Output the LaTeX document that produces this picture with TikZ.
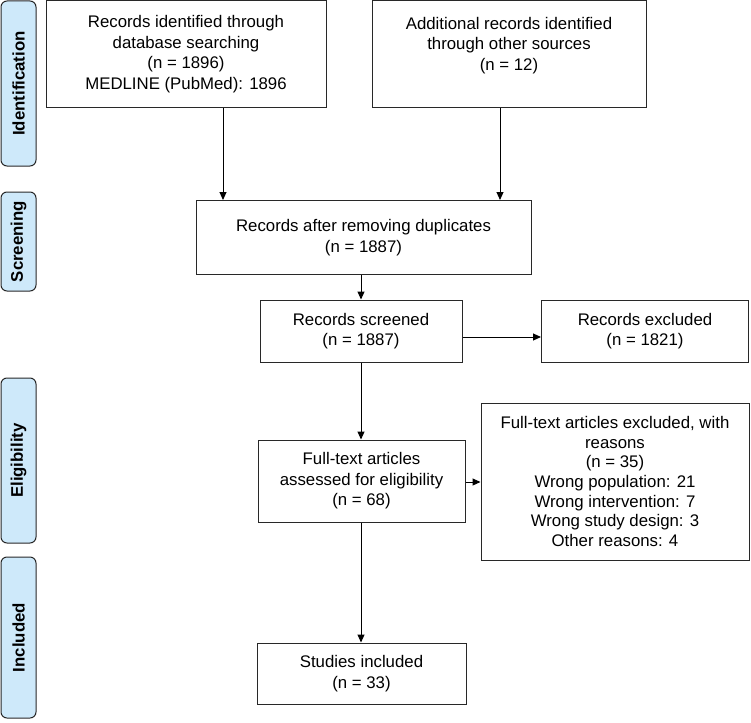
\documentclass[tikz,border=0pt]{standalone}
\usepackage{fontspec}
\setmainfont{Liberation Sans}
\usetikzlibrary{arrows.meta}
\definecolor{labfill}{RGB}{206,233,250}
\definecolor{edge}{RGB}{40,40,40}
\tikzset{
  box/.style={draw=edge, line width=1pt, rectangle, inner sep=0pt, align=center,
    font=\fontsize{16.8}{20.5}\selectfont},
  phase/.style={draw=edge, line width=1pt, fill=labfill, rounded corners=6pt, rotate=90,
    minimum height=35pt, inner sep=0pt, font=\fontsize{16.8}{19}\selectfont\bfseries},
  arr/.style={draw=black, line width=1pt, -{Triangle[length=8pt,width=7pt]}}
}
\begin{document}
\begin{tikzpicture}[x=1pt,y=-1pt]
\useasboundingbox (0,0) rectangle (751,722);
% phase labels
\node[phase, minimum width=165pt] (pI) at (18.5,83.5) {Identification};
\node[phase, minimum width=99pt] (pS) at (18.5,241.5) {Screening};
\node[phase, minimum width=165pt] (pE) at (18.5,460.5) {Eligibility};
\node[phase, minimum width=161pt] (pIn) at (18.5,637.5) {Included};
% boxes
\node[box, minimum width=280pt, minimum height=107pt] (id1) at (186,54)
  {Records identified through\\database searching\\(n = 1896)\\MEDLINE (PubMed): 1896};
\node[box, minimum width=274pt, minimum height=107pt] (id2) at (509,54)
  {Additional records identified\\through other sources\\(n = 12)\\\mbox{}};
\node[box, minimum width=335pt, minimum height=74pt] (dup) at (363.5,237.5)
  {Records after removing duplicates\\(n = 1887)};
\node[box, minimum width=202pt, minimum height=62pt] (scr) at (361,331)
  {Records screened\\(n = 1887)};
\node[box, minimum width=207pt, minimum height=62pt] (exc) at (645,331)
  {Records excluded\\(n = 1821)};
\node[box, minimum width=207pt, minimum height=82pt] (ft) at (361.5,481)
  {Full-text articles\\assessed for eligibility\\(n = 68)};
\node[box, minimum width=268pt, minimum height=157pt, font=\fontsize{16.8}{19.7}\selectfont] (rsn) at (615,481.5)
  {Full-text articles excluded, with\\reasons\\(n = 35)\\Wrong population: 21\\Wrong intervention: 7\\Wrong study design: 3\\Other reasons: 4};
\node[box, minimum width=209pt, minimum height=61pt] (inc) at (361.5,673.5)
  {Studies included\\(n = 33)};
% connectors
\draw[arr] (id1.south -| 223,0) -- (dup.north -| 223,0);
\draw[arr] (id2.south -| 500,0) -- (dup.north -| 500,0);
\draw[arr] (dup.south -| scr.north) -- (scr.north);
\draw[arr] (scr.east |- 0,337) -- (exc.west |- 0,337);
\draw[arr] (scr.south) -- (ft.north -| scr.south);
\draw[arr] (ft.east |- 0,482) -- (rsn.west |- 0,482);
\draw[arr] (ft.south -| scr.south) -- (inc.north -| scr.south);
\end{tikzpicture}
\end{document}
